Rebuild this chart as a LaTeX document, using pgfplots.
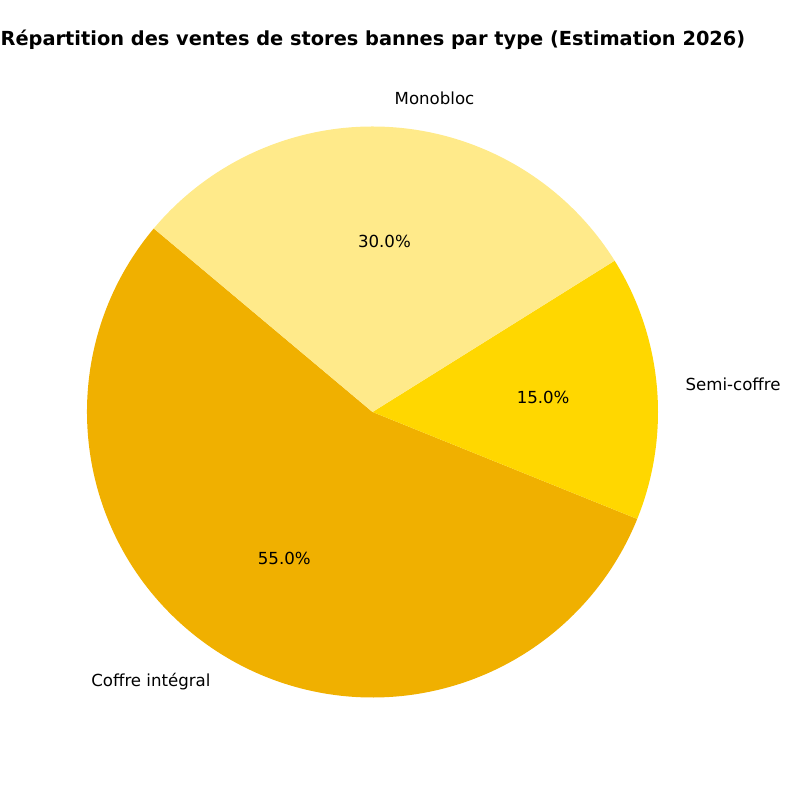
\documentclass[border=0pt]{standalone}
\usepackage{pgfplots}
\pgfplotsset{compat=1.18}
\usepackage{pgfplotstable}
\usepackage{fontspec}
\setmainfont{DejaVu Sans}
\definecolor{coffre}{HTML}{F0B000}
\definecolor{semi}{HTML}{FFD700}
\definecolor{mono}{HTML}{FFEA8A}

% parts in percent, drawn counter-clockwise from 140 deg
\pgfplotstableread{
value
55
15
30
}\piedata

\begin{document}
\begin{tikzpicture}
\begin{axis}[
  scale only axis,
  width=8in, height=8in,
  xmin=0, xmax=800, ymin=0, ymax=800,
  hide axis, clip=false,
]
\pgfplotsextra{
  \def\cx{372.5}\def\cy{388}
  \xdef\angA{140}
  \foreach \i/\col/\name/\side in {0/coffre/Coffre intégral/east,1/semi/Semi-coffre/west,2/mono/Monobloc/west}{
    \pgfplotstablegetelem{\i}{value}\of\piedata
    \let\val\pgfplotsretval
    \pgfmathsetmacro\angB{\angA+3.6*\val}
    \pgfmathsetmacro\angM{(\angA+\angB)/2}
    \fill[\col] (axis cs:\cx,\cy) -- ++(\angA:2.855in)
      arc[start angle=\angA, end angle=\angB, radius=2.855in] -- cycle;
    \path (axis cs:\cx,\cy) ++(\angM:3.1405in)
      node[anchor=\side, inner sep=0pt, font=\fontsize{12}{14}\selectfont] {\name};
    \path (axis cs:\cx,\cy) ++(\angM:1.713in)
      node[inner sep=0pt, font=\fontsize{12}{14}\selectfont]
      {\pgfmathprintnumber[fixed, fixed zerofill, precision=1, assume math mode=true]{\val}\%};
    \xdef\angA{\angB}
  }
  \node[font=\fontsize{14}{17}\selectfont\bfseries] at (axis cs:373,760)
    {Répartition des ventes de stores bannes par type (Estimation 2026)};
}
\end{axis}
\pgfresetboundingbox
\path (current axis.south west) rectangle (current axis.north east);
\end{tikzpicture}
\end{document}
